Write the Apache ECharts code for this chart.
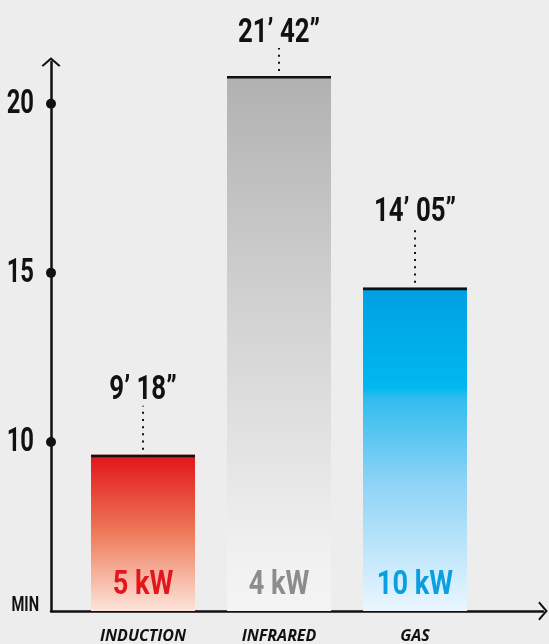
<!DOCTYPE html>
<html><head><meta charset="utf-8">
<script src="https://cdn.jsdelivr.net/npm/echarts@6/dist/echarts.min.js"></script>
<style>html,body{margin:0;padding:0;background:#ededed}#c{width:549px;height:644px}</style>
</head><body><div id="c"></div>
<script>
// ---- data ----
const categories = ['INDUCTION', 'INFRARED', 'GAS'];
const minutes = [9.62, 20.82, 14.56];
const timeLabels = ['9’ 18”', '21’ 42”', '14’ 05”'];
const powerLabels = ['5 kW', '4 kW', '10 kW'];
const yTickValues = [10, 15, 20];
const yTickLabels = ['10', '15', '20'];
const yUnitLabel = 'MIN';

// ---- styles ----
const CF = "Roboto, 'Liberation Sans', sans-serif";
const SX = 0.7;       // horizontal squeeze to imitate a condensed face
const SX_TIME = 0.76;
const SX_POWER = 0.8;
const powerColors = ['#e3161b', '#8c8c8c', '#0a9fe0'];
const barGradients = [
  [[0, '#e2141a'], [0.5, '#ee7a5a'], [1, '#fde4da']],
  [[0, '#b1b1b1'], [0.38, '#cecece'], [0.65, '#e0e0e0'], [0.9, '#f1f1f1'], [1, '#f4f4f4']],
  [[0, '#00a0e2'], [0.31, '#00b8ef'], [0.34, '#30bcee'], [0.6, '#8dd3f6'], [1, '#eaf6fe']]
];
const leaderPx = [44, 23, 55];
const Y_MIN = 5, Y_MAX = 21.235;
const X_MIN = -0.6765, X_MAX = 2.941;
const chevron = 'path://M0,8.6 L10,0 L20,8.6 L18.4,10 L10,2.8 L1.6,10 Z';

const chart = echarts.init(document.getElementById('c'));
chart.setOption({
  backgroundColor: '#ededed',
  animation: false,
  grid: { left: 51, right: 6, top: 62, bottom: 30, containLabel: false },
  xAxis: {
    type: 'value', min: X_MIN, max: X_MAX,
    splitLine: { show: false },
    axisTick: { show: false },
    axisLine: { show: true, onZero: false, lineStyle: { color: '#111', width: 2.5 }, symbol: ['none', chevron], symbolSize: [19, 10] },
    axisLabel: {
      customValues: [0, 1, 2],
      formatter: v => categories[Math.round(v)] || '',
      margin: 17,
      color: '#111', fontFamily: "'Open Sans', sans-serif", fontStyle: 'italic', fontWeight: 'bold', fontSize: 16
    }
  },
  yAxis: {
    type: 'value', min: Y_MIN, max: Y_MAX, interval: 5,
    splitLine: { show: false },
    axisTick: { show: false },
    axisLabel: { show: false },
    axisLine: { show: true, onZero: false, lineStyle: { color: '#111', width: 2.5 }, symbol: ['none', chevron], symbolSize: [19, 10] }
  },
  series: [
    {
      type: 'bar',
      barWidth: 104,
      data: minutes.map((v, i) => ({
        value: [i, v],
        itemStyle: { color: new echarts.graphic.LinearGradient(0, 0, 0, 1, barGradients[i].map(s => ({ offset: s[0], color: s[1] }))) }
      }))
    },
    {
      // y-axis tick dots and condensed tick labels
      type: 'custom',
      clip: false,
      z: 5,
      data: yTickValues.map((v, i) => [X_MIN, v, i]).concat([[X_MIN, Y_MIN, -1]]),
      renderItem(params, api) {
        const p = api.coord([api.value(0), api.value(1)]);
        const idx = api.value(2);
        if (idx < 0) {
          return { type: 'text', x: p[0] - 12, y: p[1] - 5.5, scaleX: SX,
            style: { text: yUnitLabel, fill: '#111', font: 'bold 21px ' + CF, align: 'right', verticalAlign: 'middle' } };
        }
        return { type: 'group', children: [
          { type: 'circle', shape: { cx: p[0], cy: p[1], r: 5 }, style: { fill: '#111' } },
          { type: 'text', x: p[0] - 17, y: p[1] + 1, scaleX: SX,
            style: { text: yTickLabels[idx], fill: '#111', font: 'bold 34px ' + CF, align: 'right', verticalAlign: 'middle' } }
        ] };
      }
    },
    {
      // top rule, dotted leader, time label and power label of each bar
      type: 'custom',
      clip: false,
      z: 4,
      data: minutes.map((v, i) => [i, v]),
      renderItem(params, api) {
        const i = params.dataIndex;
        const p = api.coord([api.value(0), api.value(1)]);
        const base = api.coord([api.value(0), Y_MIN]);
        const half = 52;
        const lead = leaderPx[i];
        return {
          type: 'group',
          children: [
            { type: 'line', shape: { x1: p[0] - half, y1: p[1] + 1.2, x2: p[0] + half, y2: p[1] + 1.2 }, style: { stroke: '#111', lineWidth: 2.6 } },
            { type: 'line', shape: { x1: p[0], y1: p[1] - 5, x2: p[0], y2: p[1] - 5 - lead }, style: { stroke: '#111', lineWidth: 2, lineDash: [2, 5.2] } },
            { type: 'text', x: p[0], y: p[1] - 5 - lead - 15, scaleX: SX_TIME,
              style: { text: timeLabels[i], fill: '#111', font: 'bold 34px ' + CF, align: 'center', verticalAlign: 'middle' } },
            { type: 'text', x: p[0], y: base[1] - 26, scaleX: SX_POWER,
              style: { text: powerLabels[i], fill: powerColors[i], font: 'bold 34px ' + CF, align: 'center', verticalAlign: 'middle' } }
          ]
        };
      }
    }
  ]
});
</script></body></html>
